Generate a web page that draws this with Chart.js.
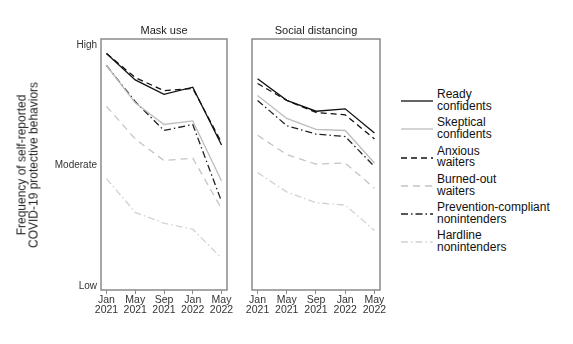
<!DOCTYPE html>
<html>
<head>
<meta charset="utf-8">
<script src="https://cdn.jsdelivr.net/npm/chart.js@4.4.1/dist/chart.umd.min.js"></script>
<style>
  html, body { margin:0; padding:0; background:#fff; }
  body { width:573px; height:344px; position:relative; overflow:hidden; font-family:"Liberation Sans", Arial, sans-serif; }
  canvas { position:absolute; top:0; }
  #ytitle { position:absolute; left:28px; top:165px; transform:translate(-50%,-50%) rotate(-90deg); white-space:nowrap; text-align:center; font-size:12px; line-height:11.5px; color:#222; }
  #legend { position:absolute; left:400px; top:89px; }
  .item { position:relative; height:28.3px; }
  .item svg { position:absolute; left:0; top:6px; }
  .item div { position:absolute; left:37px; top:0; font-size:12px; line-height:11.7px; color:#111; white-space:nowrap; }
</style>
</head>
<body>
<canvas id="c1" width="235" height="344" style="left:0"></canvas>
<canvas id="c2" width="150" height="344" style="left:240px"></canvas>
<div id="ytitle">Frequency of self-reported<br>COVID-19 protective behaviors</div>
<div id="legend"></div>
<script>
// ---- data ----
const categories = ["Jan 2021", "May 2021", "Sep 2021", "Jan 2022", "May 2022"];
const tickLabels = [["Jan","2021"],["May","2021"],["Sep","2021"],["Jan","2022"],["May","2022"]];
const yTickValues = [1, 2, 3];
const yTickNames = ["Low", "Moderate", "High"];
const panelTitles = ["Mask use", "Social distancing"];
const seriesNames = [["Ready","confidents"],["Skeptical","confidents"],["Anxious","waiters"],["Burned-out","waiters"],["Prevention-compliant","nonintenders"],["Hardline","nonintenders"]];

const maskReady      = [2.93, 2.71, 2.59, 2.65, 2.17];
const maskSkeptical  = [2.83, 2.52, 2.34, 2.37, 1.87];
const maskAnxious    = [2.93, 2.73, 2.62, 2.64, 2.19];
const maskBurned     = [2.49, 2.22, 2.04, 2.06, 1.64];
const maskPrevention = [2.83, 2.53, 2.29, 2.34, 1.70];
const maskHardline   = [1.89, 1.61, 1.52, 1.47, 1.23];

const distReady      = [2.72, 2.54, 2.45, 2.47, 2.27];
const distSkeptical  = [2.58, 2.39, 2.30, 2.29, 2.02];
const distAnxious    = [2.68, 2.54, 2.44, 2.42, 2.22];
const distBurned     = [2.25, 2.09, 2.01, 2.02, 1.81];
const distPrevention = [2.54, 2.33, 2.26, 2.24, 1.99];
const distHardline   = [1.94, 1.78, 1.69, 1.67, 1.46];

// ---- styles ----
const styles = [
  { color: "#111111", dash: [] },
  { color: "#bdbdbd", dash: [] },
  { color: "#111111", dash: [6, 4] },
  { color: "#c4c4c4", dash: [7, 5] },
  { color: "#222222", dash: [7, 3, 1.5, 3] },
  { color: "#d2d2d2", dash: [7, 3, 1.5, 3] }
];

function makeDatasets(arrs) {
  return arrs.map((arr, k) => ({
    label: seriesNames[k].join(" "),
    data: arr.map((v, i) => ({ x: i, y: v })),
    borderColor: styles[k].color,
    borderDash: styles[k].dash,
    borderWidth: 1.3,
    pointRadius: 0,
    tension: 0,
    fill: false
  }));
}

const boxPlugin = {
  id: "box",
  beforeDatasetsDraw(chart) {
    const a = chart.chartArea, ctx = chart.ctx;
    ctx.save();
    ctx.strokeStyle = "#8a8a8a";
    ctx.lineWidth = 1.5;
    ctx.strokeRect(a.left, a.top, a.right - a.left, a.bottom - a.top);
    ctx.restore();
  },
  afterDraw(chart) {
    const a = chart.chartArea, ctx = chart.ctx;
    ctx.save();
    ctx.fillStyle = "#222";
    ctx.font = "11px 'Liberation Sans', Arial, sans-serif";
    ctx.textAlign = "center";
    ctx.textBaseline = "middle";
    ctx.fillText(chart.options.plugins.box.title, (a.left + a.right) / 2, a.top - 8);
    ctx.restore();
  }
};

function makeChart(id, arrs, title, showY, yWidth, padRight) {
  return new Chart(document.getElementById(id), {
    type: "line",
    data: { datasets: makeDatasets(arrs) },
    options: {
      responsive: false,
      animation: false,
      devicePixelRatio: 1,
      layout: { padding: { top: 39, right: padRight, bottom: 0, left: 0 } },
      plugins: { legend: { display: false }, tooltip: { enabled: false }, title: { display: false }, box: { title: title } },
      scales: {
        x: {
          type: "linear",
          min: -0.19, max: 4.19,
          afterBuildTicks: s => { s.ticks = categories.map((c, i) => ({ value: i })); },
          afterFit: s => { s.height = 54; },
          grid: { display: true, drawOnChartArea: false, drawTicks: true, tickLength: 4, color: "#888", lineWidth: 1 },
          border: { display: false },
          ticks: {
            autoSkip: false, maxRotation: 0, padding: 1,
            color: "#333",
            font: { size: 10.5, family: "'Liberation Sans', Arial, sans-serif", lineHeight: 0.95 },
            callback: v => tickLabels[v]
          }
        },
        y: {
          type: "linear",
          min: 0.965, max: 3.05,
          afterBuildTicks: s => { s.ticks = yTickValues.map(v => ({ value: v })); },
          afterFit: s => { s.width = yWidth; },
          grid: { display: false, drawTicks: false },
          border: { display: false },
          ticks: {
            display: showY, padding: 4,
            color: "#333",
            font: { size: 10, family: "'Liberation Sans', Arial, sans-serif" },
            callback: v => yTickNames[yTickValues.indexOf(v)]
          }
        }
      }
    },
    plugins: [boxPlugin]
  });
}

makeChart("c1", [maskReady, maskSkeptical, maskAnxious, maskBurned, maskPrevention, maskHardline], panelTitles[0], true, 101, 8);
makeChart("c2", [distReady, distSkeptical, distAnxious, distBurned, distPrevention, distHardline], panelTitles[1], false, 12, 10);

// ---- legend ----
const leg = document.getElementById("legend");
seriesNames.forEach((n, k) => {
  const it = document.createElement("div");
  it.className = "item";
  const st = styles[k];
  it.innerHTML = '<svg width="34" height="12"><line x1="1" y1="6" x2="33" y2="6" stroke="' + st.color +
    '" stroke-width="1.3" stroke-dasharray="' + (st.dash.length ? st.dash.join(" ") : "none") + '"/></svg>' +
    '<div>' + n[0] + '<br>' + n[1] + '</div>';
  leg.appendChild(it);
});
</script>
</body>
</html>
